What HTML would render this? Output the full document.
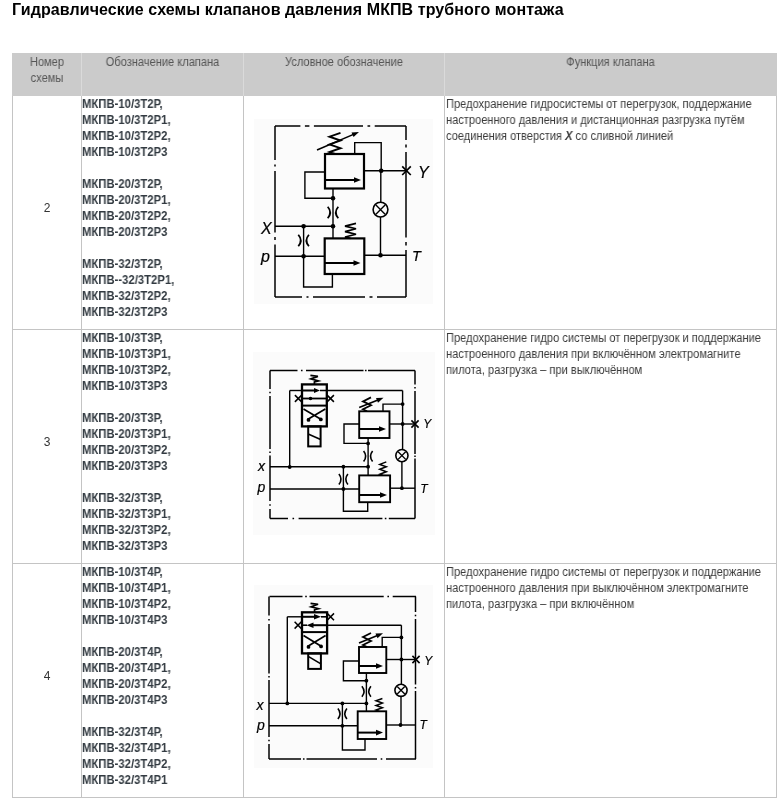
<!DOCTYPE html>
<html><head><meta charset="utf-8">
<style>
*{margin:0;padding:0;box-sizing:border-box}
html,body{width:782px;height:809px;background:#fff;overflow:hidden}
body{position:relative;font-family:"Liberation Sans",sans-serif;color:#333}
.title{will-change:transform;position:absolute;left:12px;top:1px;letter-spacing:0.09px;font-size:16px;font-weight:bold;color:#000;line-height:18px;white-space:nowrap}
.hd{position:absolute;left:12px;top:53px;width:765px;height:43px;background:#cbcbcb}
.vl{position:absolute;width:1px;background:#c4c4c4}
.vlh{position:absolute;width:1px;background:#dadada;top:53px;height:43px}
.hl{position:absolute;height:1px;background:#c4c4c4;left:12px;width:765px}
.t{position:absolute;font-size:12px;line-height:16px;white-space:nowrap;will-change:transform}
.th{color:#555;text-align:center;transform:scaleX(0.923)}
.b{font-weight:bold;color:#323a41;transform:scaleX(0.942);transform-origin:0 0}
.fn{color:#3a3a3a;transform:scaleX(0.923);transform-origin:0 0}
.num{color:#333;text-align:center;width:68px;left:13px}
svg{position:absolute;left:0;top:0}
</style></head><body>
<div class="title">Гидравлические схемы клапанов давления МКПВ трубного монтажа</div>

<div class="hd"></div>
<div class="vlh" style="left:81px"></div>
<div class="vlh" style="left:243px"></div>
<div class="vlh" style="left:444px"></div>

<div class="vl" style="left:12px;top:96px;height:702px"></div>
<div class="vl" style="left:81px;top:96px;height:702px"></div>
<div class="vl" style="left:243px;top:96px;height:702px"></div>
<div class="vl" style="left:444px;top:96px;height:702px"></div>
<div class="vl" style="left:776px;top:96px;height:702px"></div>
<div class="hl" style="top:329px"></div>
<div class="hl" style="top:563px"></div>
<div class="hl" style="top:797px"></div>

<div class="t th" style="left:13px;top:54px;width:68px">Номер<br>схемы</div>
<div class="t th" style="left:82px;top:54px;width:161px">Обозначение клапана</div>
<div class="t th" style="left:244px;top:54px;width:200px">Условное обозначение</div>
<div class="t th" style="left:445px;top:54px;width:331px">Функция клапана</div>

<div class="t num" style="top:200px">2</div>
<div class="t num" style="top:434px">3</div>
<div class="t num" style="top:668px">4</div>

<div class="t b" style="left:82px;top:96px">МКПВ-10/3Т2Р,<br>МКПВ-10/3Т2Р1,<br>МКПВ-10/3Т2Р2,<br>МКПВ-10/3Т2Р3<br><br>МКПВ-20/3Т2Р,<br>МКПВ-20/3Т2Р1,<br>МКПВ-20/3Т2Р2,<br>МКПВ-20/3Т2Р3<br><br>МКПВ-32/3Т2Р,<br>МКПВ--32/3Т2Р1,<br>МКПВ-32/3Т2Р2,<br>МКПВ-32/3Т2Р3</div>
<div class="t b" style="left:82px;top:330px">МКПВ-10/3Т3Р,<br>МКПВ-10/3Т3Р1,<br>МКПВ-10/3Т3Р2,<br>МКПВ-10/3Т3Р3<br><br>МКПВ-20/3Т3Р,<br>МКПВ-20/3Т3Р1,<br>МКПВ-20/3Т3Р2,<br>МКПВ-20/3Т3Р3<br><br>МКПВ-32/3Т3Р,<br>МКПВ-32/3Т3Р1,<br>МКПВ-32/3Т3Р2,<br>МКПВ-32/3Т3Р3</div>
<div class="t b" style="left:82px;top:564px">МКПВ-10/3Т4Р,<br>МКПВ-10/3Т4Р1,<br>МКПВ-10/3Т4Р2,<br>МКПВ-10/3Т4Р3<br><br>МКПВ-20/3Т4Р,<br>МКПВ-20/3Т4Р1,<br>МКПВ-20/3Т4Р2,<br>МКПВ-20/3Т4Р3<br><br>МКПВ-32/3Т4Р,<br>МКПВ-32/3Т4Р1,<br>МКПВ-32/3Т4Р2,<br>МКПВ-32/3Т4Р1</div>

<div class="t fn" style="left:446px;top:96px">Предохранение гидросистемы от перегрузок, поддержание<br>настроенного давления и дистанционная разгрузка путём<br>соединения отверстия <b><i>X</i></b> со сливной линией</div>
<div class="t fn" style="left:446px;top:330px">Предохранение гидро системы от перегрузок и поддержание<br>настроенного давления при включённом электромагните<br>пилота, разгрузка – при выключённом</div>
<div class="t fn" style="left:446px;top:564px">Предохранение гидро системы от перегрузок и поддержание<br>настроенного давления при выключённом электромагните<br>пилота, разгрузка – при включённом</div>

<svg width="782" height="809" viewBox="0 0 782 809">
<rect x="254" y="119" width="179" height="185" fill="#fbfbfb"/>
<rect x="253" y="352" width="182" height="183" fill="#fbfbfb"/>
<rect x="254" y="585" width="179" height="183" fill="#fbfbfb"/>
<line x1="275" y1="126" x2="300.4" y2="126" stroke="#000" stroke-width="1.5"/>
<line x1="313.9" y1="126" x2="363" y2="126" stroke="#000" stroke-width="1.5"/>
<line x1="374.7" y1="126" x2="406" y2="126" stroke="#000" stroke-width="1.5"/>
<line x1="304.9" y1="126" x2="309.4" y2="126" stroke="#000" stroke-width="1.5"/>
<line x1="367.5" y1="126" x2="370.20000000000005" y2="126" stroke="#000" stroke-width="1.5"/>
<line x1="275" y1="297" x2="302" y2="297" stroke="#000" stroke-width="1.5"/>
<line x1="313" y1="297" x2="365" y2="297" stroke="#000" stroke-width="1.5"/>
<line x1="377" y1="297" x2="406" y2="297" stroke="#000" stroke-width="1.5"/>
<line x1="306.5" y1="297" x2="308.5" y2="297" stroke="#000" stroke-width="1.5"/>
<line x1="369.5" y1="297" x2="372.5" y2="297" stroke="#000" stroke-width="1.5"/>
<line x1="275" y1="126" x2="275" y2="160" stroke="#000" stroke-width="1.5"/>
<line x1="275" y1="171" x2="275" y2="232.5" stroke="#000" stroke-width="1.5"/>
<line x1="275" y1="244.5" x2="275" y2="297" stroke="#000" stroke-width="1.5"/>
<line x1="275" y1="164.5" x2="275" y2="166.5" stroke="#000" stroke-width="1.5"/>
<line x1="275" y1="237.0" x2="275" y2="240.0" stroke="#000" stroke-width="1.5"/>
<line x1="406" y1="126" x2="406" y2="140" stroke="#000" stroke-width="1.5"/>
<line x1="406" y1="152" x2="406" y2="237.5" stroke="#000" stroke-width="1.5"/>
<line x1="406" y1="250" x2="406" y2="297" stroke="#000" stroke-width="1.5"/>
<line x1="406" y1="144.5" x2="406" y2="147.5" stroke="#000" stroke-width="1.5"/>
<line x1="406" y1="242.0" x2="406" y2="245.5" stroke="#000" stroke-width="1.5"/>
<rect x="325" y="154" width="39" height="34.5" stroke="#000" stroke-width="2.2" fill="none"/>
<line x1="325" y1="180" x2="356.8" y2="180" stroke="#000" stroke-width="2.0"/>
<path d="M361,180L354,177.2L354,182.8Z" fill="#000"/>
<path d="M335.0,154L329.5,152.1L340.5,148.2L329.5,144.4L340.5,140.6L329.5,136.7L340.5,132.9" stroke="#000" stroke-width="1.9" fill="none" stroke-linecap="butt" stroke-linejoin="miter"/>
<line x1="317" y1="150" x2="353.48512981989165" y2="134.363515791475" stroke="#000" stroke-width="1.6"/>
<path d="M359.0,132.0L353.6,137.1L351.5,132.4Z" fill="#000"/>
<path d="M354.7,154V142.6H381.2V170.7" stroke="#000" stroke-width="1.4" fill="none" stroke-linecap="butt" stroke-linejoin="miter"/>
<line x1="364" y1="170.7" x2="406.5" y2="170.7" stroke="#000" stroke-width="1.4"/>
<circle cx="381.2" cy="170.7" r="2.3" fill="#000"/>
<path d="M402.2,166.39999999999998L410.8,175.0M410.8,166.39999999999998L402.2,175.0" stroke="#000" stroke-width="1.7" fill="none" stroke-linecap="butt" stroke-linejoin="miter"/>
<line x1="380.8" y1="170.7" x2="380.8" y2="202" stroke="#000" stroke-width="1.4"/>
<circle cx="380.5" cy="209.6" r="7.4" stroke="#000" stroke-width="1.6" fill="none"/>
<path d="M375.912,205.012L385.088,214.188M385.088,205.012L375.912,214.188" stroke="#000" stroke-width="1.36" fill="none" stroke-linecap="butt" stroke-linejoin="miter"/>
<line x1="380.5" y1="217" x2="380.5" y2="255.2" stroke="#000" stroke-width="1.4"/>
<circle cx="380.5" cy="255.2" r="2.3" fill="#000"/>
<line x1="364.3" y1="255.2" x2="406" y2="255.2" stroke="#000" stroke-width="1.4"/>
<rect x="324.7" y="238.4" width="39.60000000000002" height="35.599999999999994" stroke="#000" stroke-width="2.2" fill="none"/>
<line x1="324.7" y1="263" x2="356.3" y2="263" stroke="#000" stroke-width="2.0"/>
<path d="M360.5,263L353.5,260.2L353.5,265.8Z" fill="#000"/>
<path d="M350.5,238.4L345,237.0L356,234.3L345,231.6L356,228.8L345,226.1L356,223.4" stroke="#000" stroke-width="1.6" fill="none" stroke-linecap="butt" stroke-linejoin="miter"/>
<path d="M325,172H304.9V198.2H333" stroke="#000" stroke-width="1.4" fill="none" stroke-linecap="butt" stroke-linejoin="miter"/>
<line x1="333" y1="188.5" x2="333" y2="238.4" stroke="#000" stroke-width="1.4"/>
<circle cx="333" cy="198.2" r="2.3" fill="#000"/>
<path d="M327.7,206.75Q332.7,212.5 327.7,218.25M338.3,206.75Q333.3,212.5 338.3,218.25" stroke="#000" stroke-width="1.8" fill="none" stroke-linecap="butt" stroke-linejoin="miter"/>
<circle cx="333" cy="226.2" r="2.3" fill="#000"/>
<line x1="275" y1="226.2" x2="333" y2="226.2" stroke="#000" stroke-width="1.4"/>
<circle cx="303.6" cy="226.2" r="2.3" fill="#000"/>
<line x1="303.6" y1="226.2" x2="303.6" y2="256.3" stroke="#000" stroke-width="1.4"/>
<path d="M298.3,234.75Q303.3,240.5 298.3,246.25M308.90000000000003,234.75Q303.90000000000003,240.5 308.90000000000003,246.25" stroke="#000" stroke-width="1.8" fill="none" stroke-linecap="butt" stroke-linejoin="miter"/>
<circle cx="303.6" cy="256.3" r="2.3" fill="#000"/>
<line x1="275" y1="256.3" x2="324.7" y2="256.3" stroke="#000" stroke-width="1.4"/>
<path d="M303.6,256.3V287H332.4V274" stroke="#000" stroke-width="1.4" fill="none" stroke-linecap="butt" stroke-linejoin="miter"/>
<text x="261" y="234" font-family="Liberation Sans" font-style="italic" font-size="16" fill="#000" stroke="#000" stroke-width="0.2">X</text>
<text x="261" y="261.5" font-family="Liberation Sans" font-style="italic" font-size="16" fill="#000" stroke="#000" stroke-width="0.2">p</text>
<text x="418" y="177.5" font-family="Liberation Sans" font-style="italic" font-size="16" fill="#000" stroke="#000" stroke-width="0.2">Y</text>
<text x="412" y="261" font-family="Liberation Sans" font-style="italic" font-size="14.5" fill="#000" stroke="#000" stroke-width="0.2">T</text>
<line x1="270" y1="370.5" x2="297.5" y2="370.5" stroke="#000" stroke-width="1.5"/>
<line x1="306" y1="370.5" x2="363.5" y2="370.5" stroke="#000" stroke-width="1.5"/>
<line x1="368" y1="370.5" x2="415" y2="370.5" stroke="#000" stroke-width="1.5"/>
<line x1="300.95" y1="370.5" x2="302.55" y2="370.5" stroke="#000" stroke-width="1.5"/>
<line x1="364.95" y1="370.5" x2="366.55" y2="370.5" stroke="#000" stroke-width="1.5"/>
<line x1="270" y1="518.5" x2="288" y2="518.5" stroke="#000" stroke-width="1.5"/>
<line x1="298.6" y1="518.5" x2="382.4" y2="518.5" stroke="#000" stroke-width="1.5"/>
<line x1="388.8" y1="518.5" x2="415" y2="518.5" stroke="#000" stroke-width="1.5"/>
<line x1="292.5" y1="518.5" x2="294.1" y2="518.5" stroke="#000" stroke-width="1.5"/>
<line x1="384.8" y1="518.5" x2="386.40000000000003" y2="518.5" stroke="#000" stroke-width="1.5"/>
<line x1="270" y1="370.5" x2="270" y2="389" stroke="#000" stroke-width="1.5"/>
<line x1="270" y1="396" x2="270" y2="449" stroke="#000" stroke-width="1.5"/>
<line x1="270" y1="455.5" x2="270" y2="501" stroke="#000" stroke-width="1.5"/>
<line x1="270" y1="509" x2="270" y2="518.5" stroke="#000" stroke-width="1.5"/>
<line x1="270" y1="391.7" x2="270" y2="393.3" stroke="#000" stroke-width="1.5"/>
<line x1="270" y1="451.45" x2="270" y2="453.05" stroke="#000" stroke-width="1.5"/>
<line x1="270" y1="504.2" x2="270" y2="505.8" stroke="#000" stroke-width="1.5"/>
<line x1="415" y1="370.5" x2="415" y2="384.5" stroke="#000" stroke-width="1.5"/>
<line x1="415" y1="391" x2="415" y2="454" stroke="#000" stroke-width="1.5"/>
<line x1="415" y1="458.5" x2="415" y2="518.5" stroke="#000" stroke-width="1.5"/>
<line x1="415" y1="386.95" x2="415" y2="388.55" stroke="#000" stroke-width="1.5"/>
<line x1="415" y1="455.45" x2="415" y2="457.05" stroke="#000" stroke-width="1.5"/>
<rect x="302" y="384.4" width="24.80000000000001" height="42.0" stroke="#000" stroke-width="2.3" fill="none"/>
<line x1="302" y1="405.6" x2="326.8" y2="405.6" stroke="#000" stroke-width="2.0"/>
<path d="M303.5,409.1L321.3,419.4M325.3,409.1L307.5,419.4" stroke="#000" stroke-width="1.7" fill="none" stroke-linecap="butt" stroke-linejoin="miter"/>
<circle cx="308.5" cy="419.9" r="1.9" fill="#000"/>
<circle cx="320.8" cy="419.4" r="1.9" fill="#000"/>
<path d="M310.4,375.4L317.9,376.4L310.9,378.9L318.4,380.9L314.4,381.9V384.4" stroke="#000" stroke-width="1.7" fill="none" stroke-linecap="butt" stroke-linejoin="miter"/>
<rect x="308.2" y="426.4" width="12.400000000000034" height="20.0" stroke="#000" stroke-width="2.0" fill="none"/>
<line x1="308.2" y1="433.9" x2="320.6" y2="439.4" stroke="#000" stroke-width="1.6"/>
<line x1="289.7" y1="390.5" x2="302" y2="390.5" stroke="#000" stroke-width="1.4"/>
<line x1="302" y1="390.5" x2="316.4" y2="390.5" stroke="#000" stroke-width="2.0"/>
<path d="M320,390.5L314,388.1L314,392.9Z" fill="#000"/>
<line x1="320" y1="390.5" x2="402.6" y2="390.5" stroke="#000" stroke-width="1.4"/>
<line x1="302" y1="398.5" x2="326.8" y2="398.5" stroke="#000" stroke-width="1.8"/>
<circle cx="310.5" cy="398.5" r="1.8" fill="#000"/>
<path d="M294.90000000000003,395.1L301.7,401.9M301.7,395.1L294.90000000000003,401.9" stroke="#000" stroke-width="1.5" fill="none" stroke-linecap="butt" stroke-linejoin="miter"/>
<path d="M327.1,395.1L333.9,401.9M333.9,395.1L327.1,401.9" stroke="#000" stroke-width="1.5" fill="none" stroke-linecap="butt" stroke-linejoin="miter"/>
<line x1="289.7" y1="390.5" x2="289.7" y2="467" stroke="#000" stroke-width="1.4"/>
<circle cx="289.7" cy="467" r="1.9" fill="#000"/>
<line x1="402.6" y1="390.5" x2="402.6" y2="449.5" stroke="#000" stroke-width="1.4"/>
<circle cx="401.9" cy="455.6" r="6.1" stroke="#000" stroke-width="1.6" fill="none"/>
<path d="M398.118,451.81800000000004L405.68199999999996,459.382M405.68199999999996,451.81800000000004L398.118,459.382" stroke="#000" stroke-width="1.36" fill="none" stroke-linecap="butt" stroke-linejoin="miter"/>
<line x1="401.9" y1="461.7" x2="401.9" y2="488.2" stroke="#000" stroke-width="1.4"/>
<circle cx="402.6" cy="404.1" r="1.9" fill="#000"/>
<circle cx="402.6" cy="424" r="1.9" fill="#000"/>
<circle cx="401.9" cy="488.2" r="1.9" fill="#000"/>
<rect x="359.2" y="411.3" width="30.30000000000001" height="26.69999999999999" stroke="#000" stroke-width="1.9" fill="none"/>
<line x1="359.2" y1="429" x2="381.8" y2="429" stroke="#000" stroke-width="2.0"/>
<path d="M386,429L379,426.2L379,431.8Z" fill="#000"/>
<path d="M367.0,411.3L363,409.3L371,405.3L363,401.4L371,397.4" stroke="#000" stroke-width="1.8" fill="none" stroke-linecap="butt" stroke-linejoin="miter"/>
<line x1="359.2" y1="407.4" x2="377.9275597506336" y2="399.92438972917097" stroke="#000" stroke-width="1.6"/>
<path d="M383.5,397.7L378.0,402.7L376.0,397.9Z" fill="#000"/>
<path d="M383,411.3V404.1H402.6" stroke="#000" stroke-width="1.4" fill="none" stroke-linecap="butt" stroke-linejoin="miter"/>
<line x1="389.5" y1="424" x2="415" y2="424" stroke="#000" stroke-width="1.4"/>
<path d="M411.4,420.4L418.6,427.6M418.6,420.4L411.4,427.6" stroke="#000" stroke-width="1.6" fill="none" stroke-linecap="butt" stroke-linejoin="miter"/>
<path d="M359.2,424H344V443.4H368.1" stroke="#000" stroke-width="1.4" fill="none" stroke-linecap="butt" stroke-linejoin="miter"/>
<circle cx="368.1" cy="443.4" r="1.9" fill="#000"/>
<line x1="368.1" y1="438" x2="368.1" y2="475.4" stroke="#000" stroke-width="1.4"/>
<path d="M363.6,450.95Q367.8,456.2 363.6,461.45M372.6,450.95Q368.40000000000003,456.2 372.6,461.45" stroke="#000" stroke-width="1.6" fill="none" stroke-linecap="butt" stroke-linejoin="miter"/>
<circle cx="368.1" cy="466.7" r="1.9" fill="#000"/>
<line x1="270" y1="466.7" x2="368.1" y2="466.7" stroke="#000" stroke-width="1.4"/>
<circle cx="343.4" cy="466.7" r="1.9" fill="#000"/>
<line x1="343.4" y1="466.7" x2="343.4" y2="489" stroke="#000" stroke-width="1.4"/>
<path d="M338.9,473.95Q343.09999999999997,479.2 338.9,484.45M347.9,473.95Q343.7,479.2 347.9,484.45" stroke="#000" stroke-width="1.6" fill="none" stroke-linecap="butt" stroke-linejoin="miter"/>
<circle cx="343.4" cy="489" r="1.9" fill="#000"/>
<line x1="270" y1="489" x2="359.2" y2="489" stroke="#000" stroke-width="1.4"/>
<path d="M343.4,489V511.2H367.7V502.2" stroke="#000" stroke-width="1.4" fill="none" stroke-linecap="butt" stroke-linejoin="miter"/>
<rect x="359.2" y="475.4" width="30.900000000000034" height="26.80000000000001" stroke="#000" stroke-width="1.9" fill="none"/>
<line x1="359.2" y1="495" x2="382.8" y2="495" stroke="#000" stroke-width="2.0"/>
<path d="M387,495L380,492.2L380,497.8Z" fill="#000"/>
<path d="M383.05,475.4L379.8,474.2L386.3,471.7L379.8,469.3L386.3,466.8L379.8,464.4L386.3,461.9" stroke="#000" stroke-width="1.5" fill="none" stroke-linecap="butt" stroke-linejoin="miter"/>
<line x1="390.1" y1="488.2" x2="415" y2="488.2" stroke="#000" stroke-width="1.4"/>
<text x="258" y="471" font-family="Liberation Sans" font-style="italic" font-size="14" fill="#000" stroke="#000" stroke-width="0.2">x</text>
<text x="257.5" y="491.5" font-family="Liberation Sans" font-style="italic" font-size="14" fill="#000" stroke="#000" stroke-width="0.2">p</text>
<text x="423.3" y="427.8" font-family="Liberation Sans" font-style="italic" font-size="12" fill="#000" stroke="#000" stroke-width="0.2">Y</text>
<text x="420.3" y="492.5" font-family="Liberation Sans" font-style="italic" font-size="12" fill="#000" stroke="#000" stroke-width="0.2">T</text>
<line x1="269.5" y1="596.5" x2="302.5" y2="596.5" stroke="#000" stroke-width="1.5"/>
<line x1="309.5" y1="596.5" x2="383.7" y2="596.5" stroke="#000" stroke-width="1.5"/>
<line x1="392.7" y1="596.5" x2="416" y2="596.5" stroke="#000" stroke-width="1.5"/>
<line x1="305.2" y1="596.5" x2="306.8" y2="596.5" stroke="#000" stroke-width="1.5"/>
<line x1="387.4" y1="596.5" x2="389.0" y2="596.5" stroke="#000" stroke-width="1.5"/>
<line x1="269" y1="759" x2="301" y2="759" stroke="#000" stroke-width="1.5"/>
<line x1="306.5" y1="759" x2="377" y2="759" stroke="#000" stroke-width="1.5"/>
<line x1="386" y1="759" x2="416" y2="759" stroke="#000" stroke-width="1.5"/>
<line x1="302.95" y1="759" x2="304.55" y2="759" stroke="#000" stroke-width="1.5"/>
<line x1="380.7" y1="759" x2="382.3" y2="759" stroke="#000" stroke-width="1.5"/>
<line x1="269" y1="596.5" x2="269" y2="615.5" stroke="#000" stroke-width="1.5"/>
<line x1="269" y1="624" x2="269" y2="673.5" stroke="#000" stroke-width="1.5"/>
<line x1="269" y1="680" x2="269" y2="737" stroke="#000" stroke-width="1.5"/>
<line x1="269" y1="744" x2="269" y2="759" stroke="#000" stroke-width="1.5"/>
<line x1="269" y1="618.95" x2="269" y2="620.55" stroke="#000" stroke-width="1.5"/>
<line x1="269" y1="675.95" x2="269" y2="677.55" stroke="#000" stroke-width="1.5"/>
<line x1="269" y1="739.7" x2="269" y2="741.3" stroke="#000" stroke-width="1.5"/>
<line x1="415.5" y1="596.5" x2="415.5" y2="612" stroke="#000" stroke-width="1.5"/>
<line x1="415.5" y1="619" x2="415.5" y2="684.5" stroke="#000" stroke-width="1.5"/>
<line x1="415.5" y1="691" x2="415.5" y2="759" stroke="#000" stroke-width="1.5"/>
<line x1="415.5" y1="614.7" x2="415.5" y2="616.3" stroke="#000" stroke-width="1.5"/>
<line x1="415.5" y1="686.95" x2="415.5" y2="688.55" stroke="#000" stroke-width="1.5"/>
<rect x="302" y="612.3" width="25.100000000000023" height="41.10000000000002" stroke="#000" stroke-width="2.3" fill="none"/>
<line x1="302" y1="632.1" x2="327.1" y2="632.1" stroke="#000" stroke-width="2.0"/>
<path d="M303.5,635.6L321.6,646.4M325.6,635.6L307.5,646.4" stroke="#000" stroke-width="1.7" fill="none" stroke-linecap="butt" stroke-linejoin="miter"/>
<circle cx="308.5" cy="646.9" r="1.9" fill="#000"/>
<circle cx="321.1" cy="646.4" r="1.9" fill="#000"/>
<path d="M310.55,603.3L318.05,604.3L311.05,606.8L318.55,608.8L314.55,609.8V612.3" stroke="#000" stroke-width="1.7" fill="none" stroke-linecap="butt" stroke-linejoin="miter"/>
<rect x="308.2" y="653.4" width="12.700000000000045" height="15.5" stroke="#000" stroke-width="2.0" fill="none"/>
<line x1="308.2" y1="656.4" x2="320.90000000000003" y2="663.9" stroke="#000" stroke-width="1.6"/>
<line x1="287.3" y1="616.8" x2="302" y2="616.8" stroke="#000" stroke-width="1.4"/>
<line x1="302" y1="616.8" x2="316.8" y2="616.8" stroke="#000" stroke-width="2.0"/>
<path d="M321,616.8L314,614.0L314,619.5999999999999Z" fill="#000"/>
<line x1="321" y1="616.8" x2="327.1" y2="616.8" stroke="#000" stroke-width="1.6"/>
<path d="M327.20000000000005,613.4L334.0,620.1999999999999M334.0,613.4L327.20000000000005,620.1999999999999" stroke="#000" stroke-width="1.5" fill="none" stroke-linecap="butt" stroke-linejoin="miter"/>
<path d="M294.6,621.8000000000001L301.4,628.6M301.4,621.8000000000001L294.6,628.6" stroke="#000" stroke-width="1.5" fill="none" stroke-linecap="butt" stroke-linejoin="miter"/>
<line x1="327.1" y1="625.2" x2="310.7" y2="625.2" stroke="#000" stroke-width="2.0"/>
<path d="M306.5,625.2L313.5,622.4000000000001L313.5,628.0Z" fill="#000"/>
<line x1="302" y1="625.2" x2="307" y2="625.2" stroke="#000" stroke-width="1.6"/>
<line x1="327.1" y1="625.2" x2="401.4" y2="625.2" stroke="#000" stroke-width="1.4"/>
<line x1="287.3" y1="616.8" x2="287.3" y2="703.4" stroke="#000" stroke-width="1.4"/>
<circle cx="287.3" cy="703.4" r="1.9" fill="#000"/>
<line x1="401.4" y1="625.2" x2="401.4" y2="684.2" stroke="#000" stroke-width="1.4"/>
<circle cx="401" cy="690.3" r="6.1" stroke="#000" stroke-width="1.6" fill="none"/>
<path d="M397.218,686.5179999999999L404.782,694.082M404.782,686.5179999999999L397.218,694.082" stroke="#000" stroke-width="1.36" fill="none" stroke-linecap="butt" stroke-linejoin="miter"/>
<line x1="401" y1="696.4" x2="401" y2="725" stroke="#000" stroke-width="1.4"/>
<circle cx="401.4" cy="637.4" r="1.9" fill="#000"/>
<circle cx="401.4" cy="659.5" r="1.9" fill="#000"/>
<circle cx="400.5" cy="725" r="1.9" fill="#000"/>
<rect x="359" y="647" width="27.30000000000001" height="26" stroke="#000" stroke-width="1.9" fill="none"/>
<line x1="359" y1="666" x2="378.8" y2="666" stroke="#000" stroke-width="2.0"/>
<path d="M383,666L376,663.2L376,668.8Z" fill="#000"/>
<path d="M367.0,647L363,645.0L371,641.0L363,637.0L371,633.0" stroke="#000" stroke-width="1.8" fill="none" stroke-linecap="butt" stroke-linejoin="miter"/>
<line x1="359" y1="643" x2="377.4371682636198" y2="635.5483111601203" stroke="#000" stroke-width="1.6"/>
<path d="M383.0,633.3L377.5,638.3L375.5,633.5Z" fill="#000"/>
<path d="M382.2,647V637.4H401.4" stroke="#000" stroke-width="1.4" fill="none" stroke-linecap="butt" stroke-linejoin="miter"/>
<line x1="386.3" y1="659.5" x2="416" y2="659.5" stroke="#000" stroke-width="1.4"/>
<path d="M412.4,655.9L419.6,663.1M419.6,655.9L412.4,663.1" stroke="#000" stroke-width="1.6" fill="none" stroke-linecap="butt" stroke-linejoin="miter"/>
<path d="M359,661H343.4V680.7H366.4" stroke="#000" stroke-width="1.4" fill="none" stroke-linecap="butt" stroke-linejoin="miter"/>
<circle cx="366.4" cy="680.7" r="1.9" fill="#000"/>
<line x1="366.4" y1="673" x2="366.4" y2="711" stroke="#000" stroke-width="1.4"/>
<path d="M361.9,686.35Q366.09999999999997,691.6 361.9,696.85M370.9,686.35Q366.7,691.6 370.9,696.85" stroke="#000" stroke-width="1.6" fill="none" stroke-linecap="butt" stroke-linejoin="miter"/>
<circle cx="366.4" cy="703.4" r="1.9" fill="#000"/>
<line x1="269" y1="703.4" x2="366.4" y2="703.4" stroke="#000" stroke-width="1.4"/>
<circle cx="342.4" cy="703.4" r="1.9" fill="#000"/>
<line x1="342.4" y1="703.4" x2="342.4" y2="725.8" stroke="#000" stroke-width="1.4"/>
<path d="M337.9,708.55Q342.09999999999997,713.8 337.9,719.05M346.9,708.55Q342.7,713.8 346.9,719.05" stroke="#000" stroke-width="1.6" fill="none" stroke-linecap="butt" stroke-linejoin="miter"/>
<circle cx="342.4" cy="725.8" r="1.9" fill="#000"/>
<line x1="269" y1="725.8" x2="357.7" y2="725.8" stroke="#000" stroke-width="1.4"/>
<path d="M342.4,725.8V750H365V739" stroke="#000" stroke-width="1.4" fill="none" stroke-linecap="butt" stroke-linejoin="miter"/>
<rect x="357.7" y="711.3" width="28.5" height="27.700000000000045" stroke="#000" stroke-width="1.9" fill="none"/>
<line x1="357.7" y1="732.6" x2="378.8" y2="732.6" stroke="#000" stroke-width="2.0"/>
<path d="M383,732.6L376,729.8000000000001L376,735.4Z" fill="#000"/>
<path d="M379.2,711.3L376,710.1L382.4,707.8L376,705.5L382.4,703.1L376,700.8L382.4,698.5" stroke="#000" stroke-width="1.5" fill="none" stroke-linecap="butt" stroke-linejoin="miter"/>
<line x1="386.2" y1="725" x2="415.5" y2="725" stroke="#000" stroke-width="1.4"/>
<text x="256.5" y="709.5" font-family="Liberation Sans" font-style="italic" font-size="14" fill="#000" stroke="#000" stroke-width="0.2">x</text>
<text x="257" y="729.5" font-family="Liberation Sans" font-style="italic" font-size="14" fill="#000" stroke="#000" stroke-width="0.2">p</text>
<text x="424.2" y="664.5" font-family="Liberation Sans" font-style="italic" font-size="12" fill="#000" stroke="#000" stroke-width="0.2">Y</text>
<text x="419.5" y="729" font-family="Liberation Sans" font-style="italic" font-size="12" fill="#000" stroke="#000" stroke-width="0.2">T</text>
</svg>
</body></html>
